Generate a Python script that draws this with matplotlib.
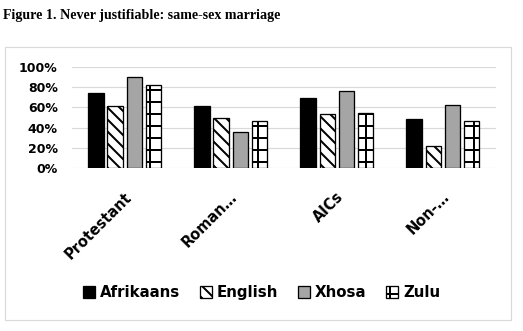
import matplotlib
matplotlib.use("Agg")
import matplotlib.pyplot as plt
import matplotlib.transforms as mtransforms
from matplotlib.patches import Rectangle
import numpy as np

categories = ["Protestant", "Roman…", "AICs", "Non-…"]
afrikaans = [0.74, 0.61, 0.69, 0.48]
english = [0.61, 0.49, 0.53, 0.22]
xhosa = [0.895, 0.355, 0.755, 0.62]
zulu = [0.815, 0.465, 0.54, 0.465]
series_names = ["Afrikaans", "English", "Xhosa", "Zulu"]
yticks = [0, 0.2, 0.4, 0.6, 0.8, 1.0]
ytick_labels = ["0%", "20%", "40%", "60%", "80%", "100%"]

plt.rcParams["hatch.linewidth"] = 2.0
plt.rcParams["font.family"] = "DejaVu Sans"

dpi = 72
fig = plt.figure(figsize=(523 / dpi, 331 / dpi), dpi=dpi)
ax = fig.add_axes([0.137, 0.4915, 0.811, 0.3075])

# light grey frame round the chart
fig.patches.append(Rectangle((0.0096, 0.0332), 0.9675, 0.8248, transform=fig.transFigure,
                             facecolor="none", edgecolor="#d9d9d9", linewidth=1.2))

fig.text(0.006, 1 - 18.5 / 331, "Figure 1. Never justifiable: same-sex marriage",
         family="Liberation Serif", fontweight="bold", fontsize=14, va="baseline")

x = np.arange(len(categories))
step = 0.18
width = 0.145
styles = [
    dict(color="black", hatch=None),
    dict(color="white", hatch="\\\\"),
    dict(color="#a5a5a5", hatch=None),
    dict(color="white", hatch="+"),
]
for k, (vals, name, st) in enumerate(zip([afrikaans, english, xhosa, zulu], series_names, styles)):
    ax.bar(x + (k - 1.5) * step, vals, width, color=st["color"], hatch=st["hatch"],
           edgecolor="black", linewidth=1.3, label=name, zorder=3)

ax.set_xlim(-0.5, 3.5)
ax.set_ylim(0, 1)
ax.set_yticks(yticks)
ax.set_yticklabels(ytick_labels, fontweight="bold", fontsize=12.5)
ax.yaxis.grid(True, color="#d9d9d9", linewidth=1.2, zorder=0)
ax.set_axisbelow(True)
for s in ax.spines.values():
    s.set_visible(False)
ax.tick_params(axis="both", length=0)
ax.tick_params(axis="y", pad=14)
ax.tick_params(axis="x", pad=21)

ax.set_xticks(x)
ax.set_xticklabels(categories, rotation=45, ha="right", va="top", rotation_mode="anchor",
                   fontweight="bold", fontsize=14.5)
shift = mtransforms.ScaledTranslation(-1 / dpi, 0, fig.dpi_scale_trans)
for lab in ax.get_xticklabels():
    lab.set_transform(lab.get_transform() + shift)

fig.legend(loc="center", bbox_to_anchor=(0.5, 0.115), ncol=4, frameon=False,
           prop=dict(weight="bold", size=15), handlelength=0.8, handleheight=0.8,
           handletextpad=0.35, columnspacing=1.3)

fig.savefig("out.png", dpi=dpi)
